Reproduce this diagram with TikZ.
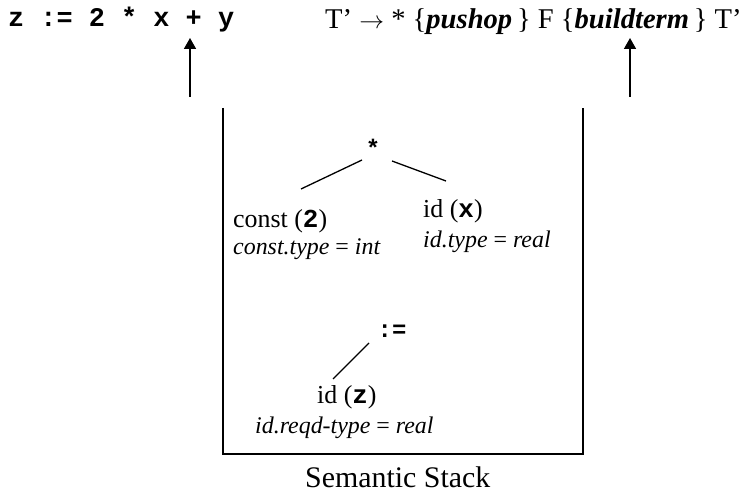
\documentclass[tikz,border=0pt]{standalone}
\usepackage{fontspec}
\setmainfont{Liberation Serif}
\setmonofont{Liberation Mono}
\usepackage{tikz}
\usetikzlibrary{arrows.meta,positioning}

\tikzset{
  txt/.style={inner sep=0pt, anchor=base west, font=\fontsize{26}{30}\selectfont},
  attr/.style={inner sep=0pt, anchor=base west, font=\fontsize{24}{28}\selectfont\itshape},
  op/.style={inner sep=0pt, anchor=base, font=\fontsize{24}{28}\selectfont\ttfamily\bfseries},
  ptr/.style={-{Triangle[length=11bp,width=12bp]}, line width=1.6bp},
  edge/.style={line width=1.3bp},
}

\begin{document}
\begin{tikzpicture}[x=1bp,y=-1bp]
    \useasboundingbox (0,0) rectangle (750,495);

    % Input and production
    \node[inner sep=0pt, anchor=base west, font=\fontsize{27}{30}\selectfont\ttfamily\bfseries] (code) at (8,27) {z := 2 * x + y};
    \node[txt, font=\fontsize{28.7}{32}\selectfont] (prod) at (325,29)
        {T’ $\rightarrow$ * \{\textbf{\textit{pushop}}\,\} F \{\textbf{\textit{buildterm}}\,\} T’};

    % Pointers
    \coordinate (plus) at (190,38);
    \coordinate (plusfoot) at (190,97);
    \coordinate (action) at (630,38);
    \coordinate (actionfoot) at (630,97);
    \draw[ptr] (plusfoot) -- (plus);
    \draw[ptr] (actionfoot) -- (action);

    % Stack
    \draw[line width=1.6bp] (223,108) -- (223,454) -- (583,454) -- (583,108);
    \node[txt, font=\fontsize{30}{34}\selectfont] (stack) at (305,487) {Semantic Stack};

    % Top entry: 2 * x
    \node[op] (star) at (373,157) {*};
    \node[txt] (cnst) at (233,228) {const (\texttt{\textbf{2}})};
    \node[attr] (cnsttype) at (233,255) {const.type \upshape= \itshape int};
    \node[txt] (idx) at (423,218) {id (\texttt{\textbf{x}})};
    \node[attr] (idxtype) at (423,248) {id.type \upshape= \itshape real};
    \coordinate (e1a) at (362,160);
    \coordinate (e1b) at (301,189);
    \coordinate (e2a) at (392,161);
    \coordinate (e2b) at (446,181);
    \draw[edge] (e1a) -- (e1b);
    \draw[edge] (e2a) -- (e2b);

    % Bottom entry: z :=
    \node[op] (assign) at (392,337) {:=};
    \node[txt] (idz) at (317,403) {id (\texttt{\textbf{z}})};
    \node[attr] (idztype) at (255,433) {id.reqd-type \upshape= \itshape real};
    \coordinate (e3a) at (369,343);
    \coordinate (e3b) at (333,379);
    \draw[edge] (e3a) -- (e3b);

\end{tikzpicture}
\end{document}
